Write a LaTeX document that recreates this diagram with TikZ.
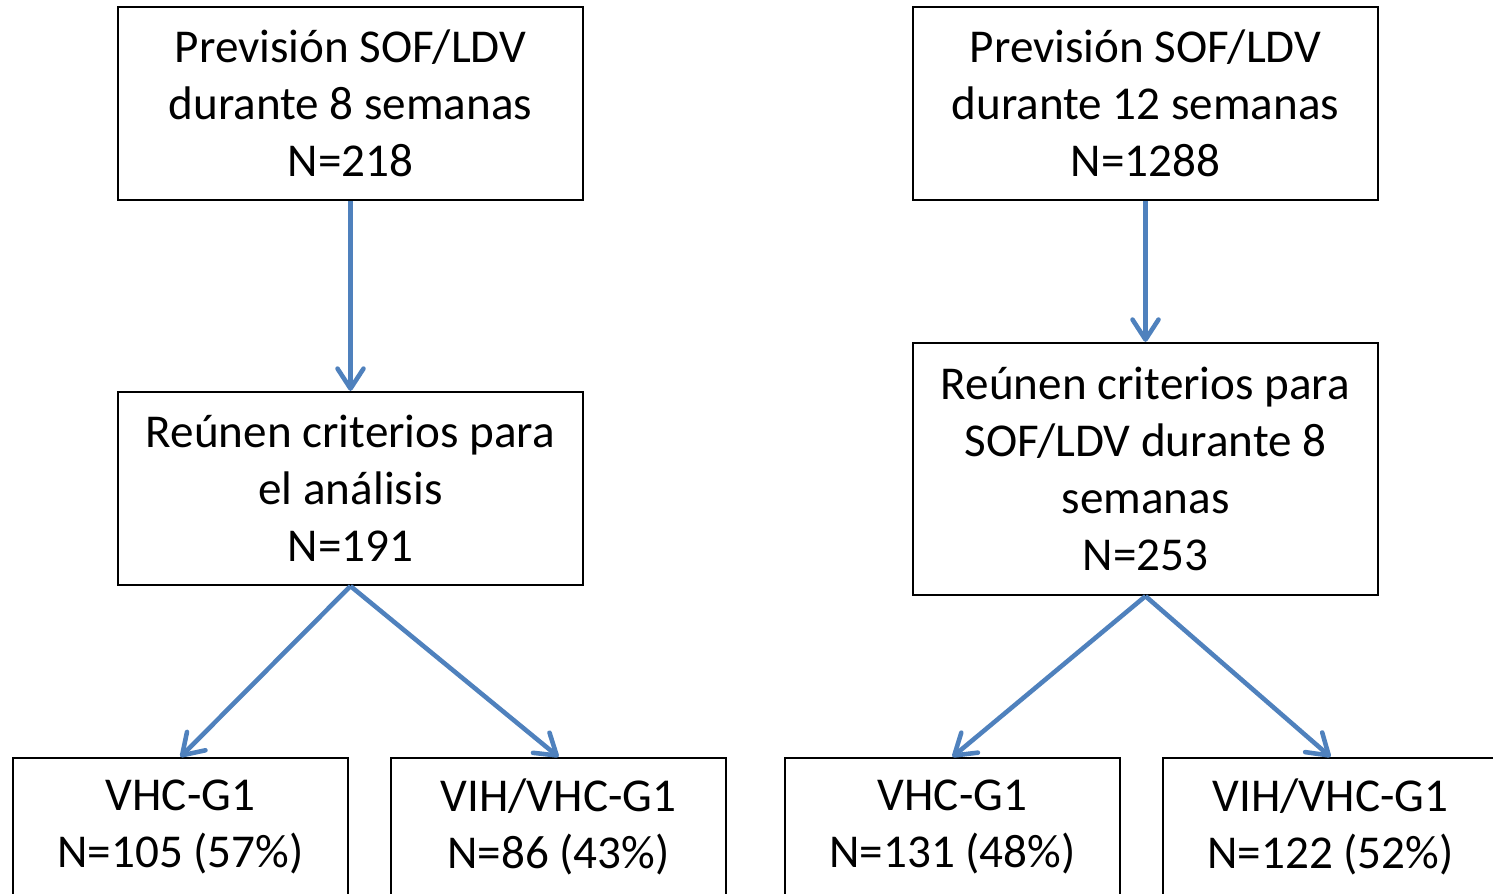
\documentclass[tikz,border=0pt]{standalone}
\usepackage{fontspec}
\setmainfont{Carlito}
\usepackage{tikz}
\usetikzlibrary{arrows.meta}
\definecolor{arrowblue}{HTML}{4F81BD}

\begin{document}
\begin{tikzpicture}[x=0.01cm, y=-0.01cm,
    box/.style = {draw, line width=0.6pt, align=center, inner sep=0pt,
                  font=\fontsize{13.4pt}{16.2pt}\selectfont},
    flow/.style = {draw=arrowblue, line width=1.3pt,
                   -{Straight Barb[length=0.2cm, width=0.26cm, line width=1.3pt, round]}}]
        % Picture frame
        \clip (0,0) rectangle (1493,893);

        % Left branch: 8 weeks
        \node[box, minimum width=4.65cm, minimum height=1.93cm] (prev8) at (350.5,103.5)
            {Previsión SOF/LDV\\durante 8 semanas\\N=218};
        \node[box, minimum width=4.65cm, minimum height=1.93cm] (crit8) at (350.5,488.5)
            {Reúnen criterios para\\el análisis\\N=191};
        \node[box, minimum width=3.35cm, minimum height=1.38cm] (vhcL) at (180.5,827)
            {VHC-G1\\N=105 (57\%)};
        \node[box, minimum width=3.35cm, minimum height=1.38cm] (vihL) at (558.5,827)
            {VIH/VHC-G1\\N=86 (43\%)};

        % Right branch: 12 weeks
        \node[box, minimum width=4.65cm, minimum height=1.93cm] (prev12) at (1145.5,103.5)
            {Previsión SOF/LDV\\durante 12 semanas\\N=1288};
        \node[box, minimum width=4.65cm, minimum height=2.52cm] (crit12) at (1145.5,469)
            {Reúnen criterios para\\SOF/LDV durante 8\\semanas\\N=253};
        \node[box, minimum width=3.35cm, minimum height=1.38cm] (vhcR) at (952.5,827)
            {VHC-G1\\N=131 (48\%)};
        \node[box, minimum width=3.35cm, minimum height=1.38cm] (vihR) at (1330.5,827)
            {VIH/VHC-G1\\N=122 (52\%)};

        % Arrows
        \draw[flow] (prev8.south) -- (crit8.north);
        \draw[flow] (crit8.south) -- (vhcL.north);
        \draw[flow] (crit8.south) -- (vihL.north);
        \draw[flow] (prev12.south) -- (crit12.north);
        \draw[flow] (crit12.south) -- (vhcR.north);
        \draw[flow] (crit12.south) -- (vihR.north);
\end{tikzpicture}
\end{document}
